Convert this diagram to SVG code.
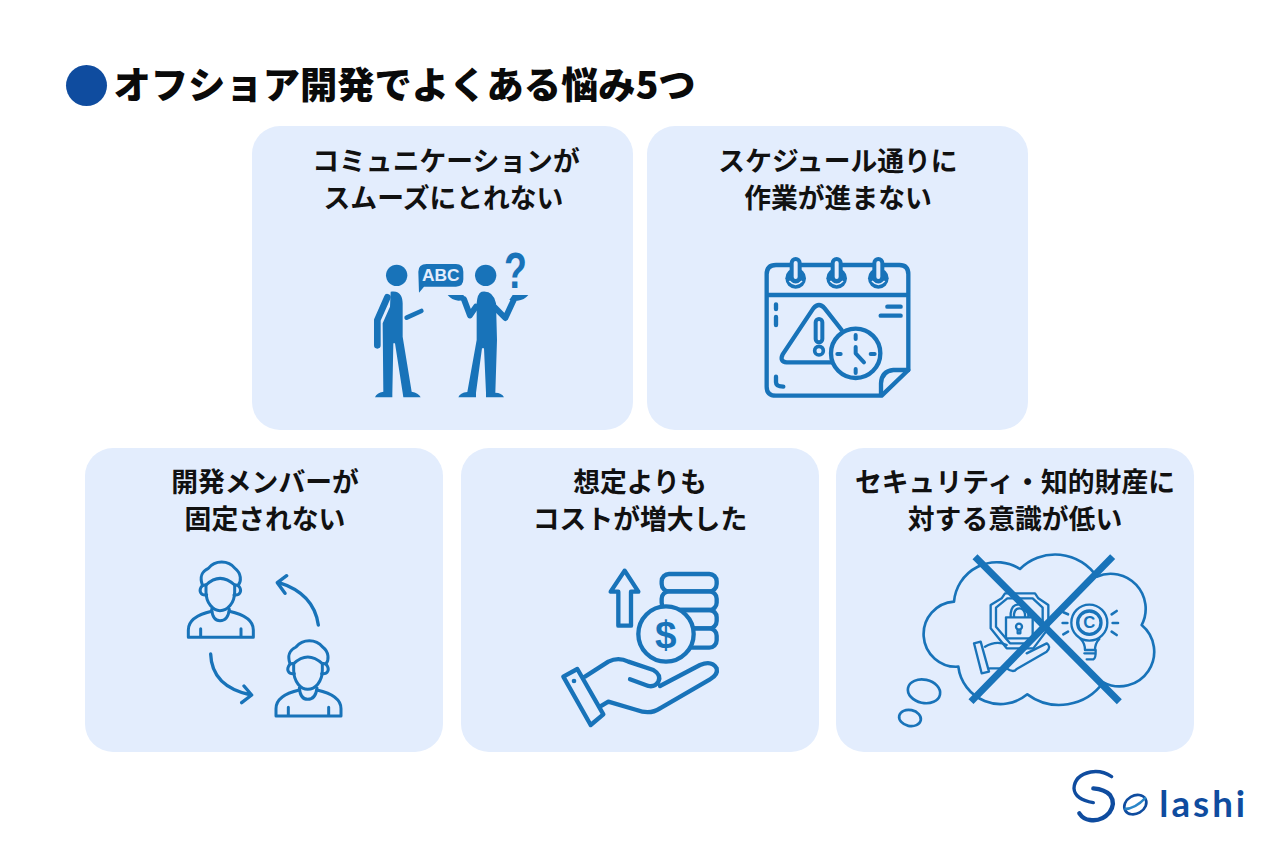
<svg xmlns="http://www.w3.org/2000/svg" xmlns:xlink="http://www.w3.org/1999/xlink" width="1280" height="853" viewBox="0 0 1280 853">
<style>
.card{fill:#e3edfd}
.t{font-family:"Noto Sans CJK JP","Noto Sans",sans-serif;font-weight:700;font-size:26.800px;fill:#111111;text-anchor:middle}
.f{fill:#1873b9;stroke:none}
.s{fill:none;stroke:#1873b9;stroke-linecap:round;stroke-linejoin:round}
</style>
<defs>
<g id="head-bust" class="s" stroke-width="9">
<path d="M108,105V125C108,160 130,182 150,182C172,182 194,160 194,125V105"/>
<path d="M108,105Q150,65 194,105"/>
<path d="M97,105C85,70 105,60 115,55C135,30 175,30 195,55C215,70 214,95 205,105"/>
<path d="M108,105C92,102 88,122 92,128C96,136 102,136 110,135M194,105C210,102 214,122 210,128C206,136 200,136 192,135"/>
<path d="M125,178Q128,212 150,212Q174,212 178,178"/>
<path d="M125,184Q55,200 55,240V262H250V240Q250,200 178,184M92,236V262M213,236V262"/>
</g>
</defs>
<rect width="1280" height="853" fill="#ffffff"/>
<g id="title">
<circle cx="86.500" cy="85.500" r="20.500" fill="#0f4c9f"/>
<text x="113.500" y="99" style="font-family:'Noto Sans CJK JP','Noto Sans',sans-serif;font-weight:900;font-size:37.300px;fill:#0a0a0a">オフショア開発でよくある悩み5つ</text>
</g>
<g id="card-communication">
<rect class="card" x="252" y="126" width="381" height="304" rx="28"/>
<text class="t" x="446" y="171">コミュニケーションが</text>
<text class="t" x="443.500" y="208">スムーズにとれない</text>
<g transform="translate(350,240) scale(.33333)">
<circle class="f" cx="140" cy="106" r="32"/>
<path class="f" d="M122,155C150,150 158,170 158,190L158,290L185,455Q205,458 212,472H160L158,458L135,310H130L127,460V472H75Q80,458 100,455L98,250L120,200Z"/>
<path class="s" stroke-width="20" d="M112,172L82,240V316"/>
<path class="s" stroke-width="14" d="M170,233L214,213"/>
<path class="f" d="M205,95Q205,72 230,72H318Q340,72 340,95V118Q340,140 318,140H222L207,158Z"/>
<text x="272" y="123" text-anchor="middle" style="font-family:'Liberation Sans',sans-serif;font-weight:700;font-size:52px;fill:#e3edfd">ABC</text>
<circle class="f" cx="407" cy="106" r="32"/>
<path class="f" d="M395,155Q430,150 438,190L441,300L436,458Q455,458 462,472H408V458L402,325H396L378,458V472H325Q330,458 352,456L380,300V190Q382,160 395,155Z"/>
<path class="s" stroke-width="18" d="M432,200L466,234L492,178M342,178L360,226L378,200"/>
<path class="f" d="M293,165H340L350,180L325,182Q305,180 293,165ZM535,165H488L478,180L503,182Q523,180 535,165Z"/>
<text transform="translate(496,143) scale(.75,1)" text-anchor="middle" style="font-family:'Liberation Sans',sans-serif;font-weight:700;font-size:150px;fill:#1873b9">?</text>
</g>
</g>
<g id="card-schedule">
<rect class="card" x="647" y="126" width="381" height="304" rx="28"/>
<text class="t" x="838" y="171">スケジュール通りに</text>
<text class="t" x="838" y="208">作業が進まない</text>
<g transform="translate(750,245) scale(.33333)">
<path class="s" stroke-width="13" d="M395,452H78Q50,452 50,425V88Q50,60 78,60H448Q475,60 475,88V375L395,452ZM50,150H475"/>
<path class="s" stroke-width="13" d="M393,450V415Q395,378 430,375H475"/>
<circle class="f" cx="137" cy="100" r="31"/><circle class="f" cx="260" cy="100" r="31"/><circle class="f" cx="385" cy="100" r="31"/>
<path fill="none" stroke="#e3edfd" stroke-width="5" d="M118,108Q137,128 156,108M241,108Q260,128 279,108M366,108Q385,128 404,108"/>
<g fill="#e3edfd" stroke="#1873b9" stroke-width="12"><rect x="125" y="42" width="24" height="66" rx="12"/><rect x="248" y="42" width="24" height="66" rx="12"/><rect x="373" y="42" width="24" height="66" rx="12"/></g>
<path class="s" stroke-width="13" d="M250,352H110Q88,350 98,328L190,190Q207,170 224,190L275,255"/>
<rect x="197" y="222" width="20" height="70" rx="10" fill="none" stroke="#1873b9" stroke-width="12"/>
<circle cx="207" cy="317" r="13" fill="none" stroke="#1873b9" stroke-width="11"/>
<circle cx="317" cy="325" r="74" fill="#e3edfd" stroke="#1873b9" stroke-width="13"/>
<path class="s" stroke-width="12" d="M317,270V282M317,372V384M262,327H272M362,327H374M317,306V325L342,352"/>
<path class="s" stroke-width="13" d="M78,178V192M78,216V240M78,395V412Q78,425 100,425M412,185H452M392,212H452"/>
</g>
</g>
<g id="card-members">
<rect class="card" x="85" y="448" width="358" height="304" rx="28"/>
<text class="t" x="265" y="492">開発メンバーが</text>
<text class="t" x="265" y="529">固定されない</text>
<g transform="translate(170,550) scale(.33333)">
<use xlink:href="#head-bust" href="#head-bust"/>
<use xlink:href="#head-bust" href="#head-bust" transform="translate(263,236)"/>
<path class="s" stroke-width="10" d="M445,225Q432,130 325,97M350,77L322,98L345,130M122,312Q125,410 243,435M222,408L245,435L215,458"/>
</g>
</g>
<g id="card-cost">
<rect class="card" x="461" y="448" width="358" height="304" rx="28"/>
<text class="t" x="640" y="492">想定よりも</text>
<text class="t" x="640" y="529">コストが増大した</text>
<g transform="translate(550,560) scale(.33333)">
<path class="s" stroke-width="13" d="M205,197H243V95H265L224,32L182,95H205Z"/>
<g class="s" stroke-width="13"><rect x="335" y="42" width="165" height="52" rx="22"/><rect x="335" y="94" width="165" height="56" rx="22"/><rect x="335" y="150" width="165" height="55" rx="22"/><rect x="335" y="205" width="165" height="58" rx="22"/></g>
<circle cx="348" cy="222" r="83" fill="#e3edfd" stroke="#1873b9" stroke-width="13"/>
<text x="347" y="264" text-anchor="middle" style="font-family:'Liberation Sans',sans-serif;font-weight:700;font-size:116px;fill:#1873b9">$</text>
<path class="s" stroke-width="13" d="M40,350L82,327L160,463L122,495ZM105,350L175,305Q205,290 235,305L310,330Q335,345 325,365Q315,382 295,378L240,358M330,378L450,315Q485,300 500,325Q505,345 480,358L330,445Q300,465 260,450L175,425L150,440"/>
<circle class="f" cx="72" cy="363" r="7"/>
</g>
</g>
<g id="card-security">
<rect class="card" x="836" y="448" width="358" height="304" rx="28"/>
<text class="t" x="1015" y="492">セキュリティ・知的財産に</text>
<text class="t" x="1015" y="529">対する意識が低い</text>
<g transform="translate(890,545) scale(.33333)">
<path class="s" stroke-width="8" d="M390,72A150,150 0 0 1 620,95A105,105 0 0 1 755,240A104,104 0 0 1 640,412A162,162 0 0 1 412,448A127,127 0 0 1 205,365A97,97 0 0 1 192,170A129,129 0 0 1 390,72Z"/>
<ellipse class="s" stroke-width="8" cx="102" cy="439" rx="49" ry="35" transform="rotate(12 102 439)"/>
<ellipse class="s" stroke-width="8" cx="60" cy="519" rx="33" ry="24" transform="rotate(12 60 519)"/>
<g class="s" stroke-width="7">
<path d="M345,145H435L445,160L475,180V250L430,310H350L302,250V180L335,160Z"/>
<path d="M352,160H428L458,188V245L420,295H360L318,245V188Z"/>
<rect x="348" y="217" width="80" height="63" fill="#e3edfd"/>
<path d="M362,215V205Q365,178 388,178Q412,178 415,205V215M372,215V207Q375,190 388,190Q402,190 405,207V215"/>
<circle cx="387" cy="245" r="9"/><path d="M383,254V265H391V254"/>
<path d="M252,295L272,290L297,380L275,385ZM285,305Q320,285 350,300M300,370H350Q370,385 380,372L470,320Q485,305 470,295L410,325"/>
<circle cx="598" cy="233" r="54"/><circle cx="598" cy="233" r="35" stroke-width="10"/>
<path d="M572,282Q585,295 585,315H615Q615,295 628,282M583,325H617M590,343H610Q618,340 617,315"/>
<path d="M518,234H532M520,202L534,208M520,268L534,260M668,234H684M665,208L680,198M665,260L680,270" stroke-width="8"/>
</g>
<text x="598" y="250" text-anchor="middle" style="font-family:'Liberation Sans',sans-serif;font-weight:700;font-size:50px;fill:#1873b9">C</text>
<path d="M255,35L688,470M668,35L243,470" stroke="#1873b9" stroke-width="21" fill="none"/>
</g>
</g>
<g id="logo">
<g transform="translate(1060,760) scale(.33333)">
<path d="M155,50Q125,30 92,36Q44,46 42,85Q44,118 100,128" fill="none" stroke="#0f4c9f" stroke-width="10" stroke-linecap="round"/>
<path d="M100,85Q135,88 150,105Q168,130 148,158Q125,185 90,180Q70,178 58,160" fill="none" stroke="#0f4c9f" stroke-width="13" stroke-linecap="round"/>
<ellipse cx="226" cy="134" rx="35" ry="27" transform="rotate(-30 226 134)" fill="none" stroke="#0f4c9f" stroke-width="8"/>
<path d="M193,147Q225,147 258,112" fill="none" stroke="#2a86c8" stroke-width="7"/>
<text x="298" y="170" style="font-family:'Lato',sans-serif;font-weight:700;font-size:110px;letter-spacing:9px;fill:#0f4c9f">lashi</text>
</g>
</g>
</svg>
